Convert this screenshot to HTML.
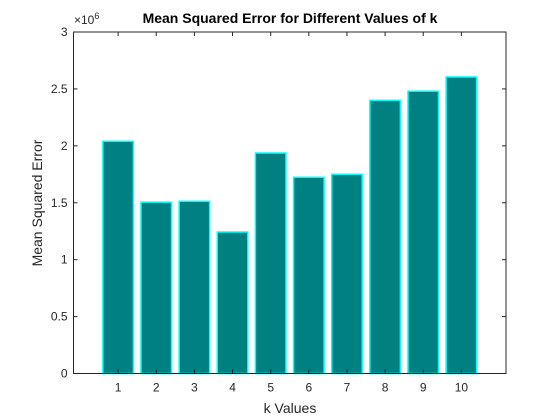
<!DOCTYPE html>
<html><head><meta charset="utf-8"><style>
body{margin:0;background:#fff;}
svg{display:block;font-family:"Liberation Sans",Arial,sans-serif;}
</style></head><body>
<svg id="chart" width="560" height="420" viewBox="0 0 560 420" xmlns="http://www.w3.org/2000/svg">
<rect width="560" height="420" fill="#fff"/>
<g id="bars"></g>
<g id="axes"></g>
<text x="290" y="23" text-anchor="middle" font-size="14" font-weight="bold" fill="#000">Mean Squared Error for Different Values of k</text>
<text x="290" y="413" text-anchor="middle" font-size="14" fill="#262626">k Values</text>
<text transform="translate(42,203) rotate(-90)" text-anchor="middle" font-size="14" fill="#262626">Mean Squared Error</text>
<text x="74" y="24" font-size="12" fill="#262626">×10<tspan font-size="9" dy="-5">6</tspan></text>
</svg>
<script>
const categories = [1,2,3,4,5,6,7,8,9,10];
const mseValues = [2.04e6,1.505e6,1.513e6,1.243e6,1.937e6,1.724e6,1.75e6,2.40e6,2.48e6,2.605e6];
const yTicks = [0,0.5e6,1e6,1.5e6,2e6,2.5e6,3e6];
const yTickLabels = ["0","0.5","1","1.5","2","2.5","3"];

const L=73.5,R=506,T=32,B=373.5;
const xMin=-0.17,xMax=11.17,yMax=3e6;
const xs=v=>L+(v-xMin)/(xMax-xMin)*(R-L);
const ys=v=>B-v/yMax*(B-T);
const NS="http://www.w3.org/2000/svg";
const bars=document.getElementById('bars'),axes=document.getElementById('axes');
function mk(tag,attrs,parent){const e=document.createElementNS(NS,tag);for(const k in attrs)e.setAttribute(k,attrs[k]);parent.appendChild(e);return e;}
const step=xs(2)-xs(1),bw=step*0.8;
categories.forEach((c,i)=>{
  const r=mk('rect',{x:xs(c)-bw/2,y:ys(mseValues[i]),width:bw,height:B-ys(mseValues[i]),fill:'#008080',stroke:'#00ffff','stroke-width':1.5},bars);
  
  
});
const box=mk('rect',{x:L,y:T,width:R-L,height:B-T,fill:'none',stroke:'#262626','stroke-width':1},axes);


categories.forEach(c=>{
  const x=xs(c);
  mk('line',{x1:x,x2:x,y1:B,y2:B-4,stroke:'#262626'},axes);
  mk('line',{x1:x,x2:x,y1:T,y2:T+4,stroke:'#262626'},axes);
  const t=mk('text',{x:x,y:B+18,'text-anchor':'middle','font-size':12,fill:'#262626'},axes);
  t.textContent=c;
  
  
});
yTicks.forEach((v,i)=>{
  const y=ys(v);
  mk('line',{x1:L,x2:L+4,y1:y,y2:y,stroke:'#262626'},axes);
  mk('line',{x1:R,x2:R-4,y1:y,y2:y,stroke:'#262626'},axes);
  const t=mk('text',{x:L-6,y:y+4,'text-anchor':'end','font-size':12,fill:'#262626'},axes);
  t.textContent=yTickLabels[i];
  
  
});
</script>
</body></html>
